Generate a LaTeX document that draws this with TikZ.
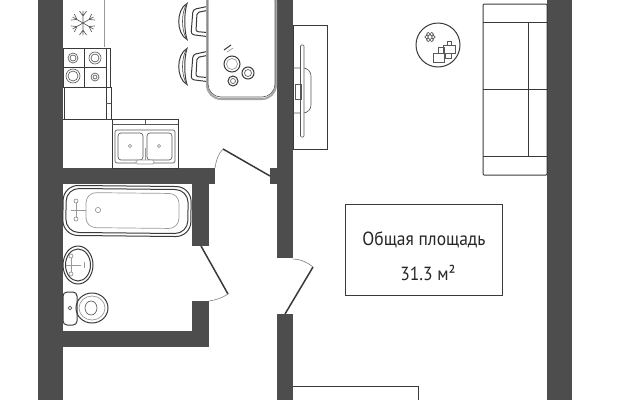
\documentclass[tikz,border=0pt]{standalone}
\usepackage{fontspec}
\setmainfont[FakeStretch=0.92]{PT Sans}
\usetikzlibrary{positioning}
\definecolor{wallgray}{HTML}{4D4D4D}
\definecolor{inkgray}{HTML}{3A3A3A}
\tikzset{
  wall/.style={fill=wallgray,draw=none},
  ink/.style={draw=inkgray,line width=1pt},
  thin ink/.style={draw=inkgray!85,line width=0.65pt},
  pale ink/.style={draw=gray!80,line width=0.7pt},
  leaf/.style={draw=inkgray,line width=1.5pt},
  swing/.style={draw=gray,line width=0.6pt},
  chair/.pic={
    \draw[ink,fill=white] (8,-18) .. controls (-3,-12) and (-3,12) .. (8,18)
      .. controls (5,8) and (5,-8) .. cycle;
    \draw[thin ink] (8,-18) .. controls (2,-9) and (2,9) .. (8,18);
    \draw[ink,rounded corners=3pt] (28,-15) -- (14,-12) -- (12,13) -- (28,15);
    \draw[ink,rounded corners=2pt] (28,-11) -- (18,-9) -- (17,10) -- (28,11);
  },
  tapcross/.pic={
    \draw[pale ink] (0,-9) -- (0,9) (-5,0) -- (10,0);
    \draw[pale ink,fill=white] (0,-9) circle [radius=2] (0,9) circle [radius=2];
  }
}
\begin{document}
\begin{tikzpicture}[x=1pt,y=-1pt]
  \useasboundingbox (0,0) rectangle (640,400);

  \fill[wall] (38,0) rectangle (63,400);
  \fill[wall] (547,0) rectangle (572,400);
  \fill[wall] (277,0) rectangle (293,258);
  \fill[wall] (277,314) rectangle (293,400);
  \fill[wall] (270,168) rectangle (277,184);
  \fill[wall] (63,168) rectangle (215,184);
  \fill[wall] (192,184) rectangle (209,246);
  \fill[wall] (192,301) rectangle (209,347);
  \fill[wall] (63,331) rectangle (192,347);

  \draw[pale ink] (104,0) -- (104,47);
  \foreach \ang in {30,90,150,210,270,330} {
    \draw[thin ink,shift={(83,23)},rotate=\ang] (0,0) -- (12,0)
      (7,0) -- (12,3.5) (7,0) -- (12,-3.5);
  }

  \draw[ink] (63,48) rectangle (110,87);
  \draw[ink] (84,48) -- (84,87) (106,48) -- (106,87) (63,67) -- (106,67);
  \foreach \cx/\cy/\rad in {73/58/5,95/58/6,73/76/7,95/77/4} {
    \draw[thin ink] (\cx,\cy) circle [radius=\rad];
    \draw[thin ink] (\cx,\cy) circle [radius=\rad-2];
  }
  \draw[ink] (64,87) rectangle (106,119);
  \draw[ink] (106,87) rectangle (111,119);
  \draw[thin ink] (106,103) -- (111,103);

  \draw[ink] (63,119) -- (178,119);
  \draw[ink] (112,119) rectangle (178,168);
  \draw[thin ink] (112,124) -- (178,124);
  \draw[thin ink] (145,120) -- (145,124);
  \draw[thin ink,rounded corners=2pt] (115,130) rectangle (175,163);
  \foreach \bx in {118,147} {
    \draw[thin ink,rounded corners=3pt] (\bx,133) rectangle ++(25,27);
    \draw[pale ink] (\bx+12,146) circle [radius=1.6];
  }
  \draw[pale ink] (145,148) -- (145,160);
  \draw[pale ink,rounded corners=1.5pt,fill=white] (136,160) rectangle (154,164);

  \foreach \chy in {21.5,66.5} {
    \pic at (179,\chy) {chair};
  }
  \draw[draw=gray!70,line width=2pt,fill=white,rounded corners=14pt]
    (207,-12) rectangle (276,99);
  \draw[thin ink,rounded corners=13pt] (208,-12) rectangle (275,97);
  \draw[ink] (232,64) circle [radius=8];
  \draw[pale ink] (232,64) circle [radius=5.5];
  \draw[ink] (248,73) circle [radius=6];
  \draw[thin ink] (248,73) circle [radius=3.5];
  \draw[ink] (233,81) circle [radius=5];
  \draw[thin ink] (233,81) circle [radius=2.5];
  \draw[ink] (224,50) -- (231,45);
  \draw[pale ink] (227,52) -- (233,48);

  \draw[leaf] (223,149) -- (270,176);
  \draw[swing] (223,149) .. controls (218,154) and (216,161) .. (215,168);
  \draw[leaf] (201,246) -- (228,294);
  \draw[swing] (228,294) .. controls (222,298) and (216,300) .. (209,301);
  \draw[leaf] (285,314) -- (313,267);
  \draw[swing] (313,267) .. controls (307,262) and (300,259) .. (293,259);

  \begin{scope}[rotate around={-0.6:(127,210)}]
    \draw[ink,rounded corners=15pt] (63,186) rectangle (191,236);
    \draw[ink,rounded corners=13pt] (66,189) rectangle (188,233);
    \draw[pale ink,rounded corners=10pt] (86,193) rectangle (179,228);
  \end{scope}
  \draw[pale ink] (98,210) circle [radius=2.6];
  \pic at (76,210) {tapcross};

  \draw[ink] (78,265) ellipse [x radius=15,y radius=19];
  \draw[ink] (78,265) ellipse [x radius=12.5,y radius=16];
  \pic at (71,265) {tapcross};
  \draw[pale ink] (84,262) -- (84,268);

  \draw[ink,rounded corners=4pt] (63,292) rectangle (77,325);
  \draw[thin ink] (70,308) circle [radius=1.8];
  \draw[ink] (92,308) ellipse [x radius=16,y radius=15];
  \draw[pale ink] (92,308) ellipse [x radius=13,y radius=12];
  \draw[thin ink] (91,308) ellipse [x radius=6,y radius=7];

  \draw[ink] (293,25) rectangle (327,149);
  \draw[thin ink,rounded corners=8pt] (293,68) -- (311,68) -- (311,113) -- (293,113);
  \draw[thin ink,fill=white,rounded corners=1pt] (300.5,45) rectangle (304,137);
  \draw[thin ink] (295,84) rectangle (301,99);

  \draw[ink] (438,45) circle [radius=22];
  \foreach \ang in {0,60,...,300} {
    \draw[thin ink] (430,37) ++(\ang:3.3) circle [radius=1.8];
  }
  \draw[thin ink] (443,45) rectangle (455,53);
  \draw[thin ink] (447,41) rectangle (451,45);
  \draw[thin ink] (438,47) rectangle (444,53);
  \draw[thin ink] (445,53) rectangle (451,58);
  \draw[thin ink,fill=white] (433,53) rectangle (444,62);

  \draw[ink,rounded corners=1pt] (483,4) rectangle (547,175);
  \draw[ink] (483,22) -- (547,22) (483,89) -- (547,89) (483,156) -- (547,156);
  \draw[ink] (528,22) -- (528,156);

  \node[draw=inkgray,line width=0.8pt,minimum width=157pt,minimum height=91pt,inner sep=0pt]
    (areabox) at (423.5,249.5) {};
  \node[text=black!85,font=\fontsize{19}{22}\selectfont,inner sep=0pt] (areatitle) at (424,240) {Общая площадь};
  \node[text=black!85,font=\fontsize{19}{22}\selectfont,inner sep=0pt] (areavalue) at (428,273) {31.3 м²};

  \draw[ink] (293,386) -- (418,386) -- (418,400);
\end{tikzpicture}
\end{document}
